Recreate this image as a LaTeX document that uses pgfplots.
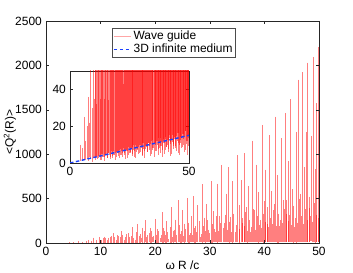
\documentclass[border=0pt]{standalone}
\usepackage{fontspec}
\setmainfont{Liberation Sans}
\usepackage{pgfplots}
\usepackage{pgfplotstable}
\pgfplotsset{compat=1.18}
\definecolor{mblue}{rgb}{0.1,0.25,1}

\pgfplotstableread{
x h b
4.2 10 1.1
5.1 8 0.9
6.0 25 2.0
6.6 12 1.4
7.3 20 2.2
7.8 36 1.2
8.3 22 3.0
8.7 60 2.1
9.2 30 0.8
9.7 70 2.9
10.2 35 2.8
10.7 73 1.9
11.2 32 3.7
11.8 71 2.5
12.3 110 3.7
12.8 35 1.9
13.3 75 4.8
13.8 130 3.3
14.3 35 1.3
14.8 102 4.4
15.3 70 4.1
15.8 180 2.8
16.3 34 5.4
16.8 216 3.5
17.3 102 5.2
17.7 173 2.7
18.2 254 6.6
18.6 88 4.5
19.1 170 1.7
19.5 65 5.9
20.0 272 5.4
20.4 159 3.7
20.9 56 6.9
21.3 347 4.5
21.7 140 6.5
22.1 249 3.3
22.5 43 8.1
22.9 401 5.5
23.3 138 2.1
23.7 262 7.1
24.2 483 6.5
24.6 103 4.4
25.0 372 8.3
25.4 219 5.3
25.8 509 7.7
26.2 87 3.9
26.6 301 9.6
27.0 527 6.5
27.4 191 2.5
27.8 427 8.3
28.2 68 7.6
28.6 660 5.1
29.0 286 9.6
29.4 441 6.2
29.8 151 8.9
30.2 698 4.5
30.6 358 11.0
31.0 123 7.4
31.4 670 2.8
31.8 301 9.5
32.2 881 8.7
32.6 226 5.9
33.0 556 10.9
33.4 853 7.0
33.8 291 10.1
34.2 696 5.1
34.6 122 12.5
35.0 989 8.4
35.35 425 3.2
35.7 704 10.7
36.05 221 9.7
36.4 1013 6.6
36.75 402 12.1
37.1 644 7.8
37.45 119 11.2
37.8 1154 5.7
38.15 371 13.7
38.5 882 9.2
38.85 577 3.5
39.2 261 11.8
39.55 1330 10.7
39.9 474 7.2
40.25 826 13.3
40.6 210 8.5
40.95 1211 12.3
41.3 580 6.2
41.65 369 15.0
42.0 1424 10.1
42.35 762 3.8
42.7 186 12.8
43.05 1181 11.6
43.4 480 7.8
43.75 1464 14.4
44.1 331 9.3
44.45 924 13.3
44.8 1621 6.7
45.15 607 16.3
45.5 176 10.9
45.85 1251 4.1
46.2 1840 13.9
46.55 553 12.6
46.9 1925 8.4
47.25 854 15.6
47.6 1252 10.0
47.95 2030 14.4
48.3 397 7.2
48.65 1207 17.5
49.0 2095 11.8
49.35 828 4.4
49.6 1575 14.9
49.8 2205 13.4
10.45 55 2.5
10.95 60 3.3
11.5 58 2.1
12.05 80 4.0
12.55 62 3.4
13.05 90 1.6
13.55 70 4.9
14.05 95 3.0
14.55 66 3.5
15.05 110 4.5
15.55 75 2.8
16.05 58 5.3
16.55 120 4.5
17.05 80 2.0
17.5 60 6.3
17.95 130 3.8
18.4 70 4.4
18.85 110 5.7
19.3 140 3.5
19.75 78 6.5
20.2 95 5.5
20.65 130 2.5
21.1 85 7.6
21.5 170 4.5
21.9 90 5.3
22.3 120 6.7
22.7 180 4.1
23.1 70 7.6
23.5 150 6.3
23.95 95 2.9
24.4 200 8.8
24.8 130 5.2
25.2 80 6.0
25.6 160 7.7
26.0 230 4.7
26.4 110 8.7
26.8 90 7.2
27.2 170 3.3
27.6 120 9.9
28.0 250 5.9
28.4 100 6.8
28.8 190 8.6
29.2 140 5.3
29.6 260 9.8
30.0 110 8.1
30.4 210 3.6
30.8 160 11.1
31.2 300 6.6
31.6 130 7.6
32.0 220 9.6
32.4 170 5.8
32.8 320 10.8
33.2 150 9.0
33.6 240 4.0
34.0 120 12.2
34.4 330 7.2
34.8 200 8.4
35.5 160 10.7
35.9 280 6.5
36.25 190 12.0
36.6 350 9.9
36.95 140 4.4
37.3 260 13.4
37.65 180 7.9
38.0 380 9.1
38.35 150 11.5
38.7 300 7.0
39.05 200 12.9
39.4 170 10.6
39.75 330 4.8
40.1 240 14.4
40.45 400 8.5
40.8 180 9.8
41.15 280 12.3
41.5 210 7.5
41.85 440 13.8
42.2 190 11.4
42.55 330 5.1
42.9 260 15.4
43.25 220 9.1
43.6 380 10.5
43.95 480 13.2
44.3 250 8.0
44.65 320 14.7
45.0 200 12.2
45.35 420 5.4
45.7 280 16.5
46.05 230 9.7
46.4 500 11.1
46.75 300 14.0
47.1 210 8.5
47.45 380 15.7
47.8 260 12.9
48.15 520 5.8
48.5 300 17.5
48.85 240 10.3
49.2 450 11.8
49.5 320 14.9
49.9 280 9.0
}\spikes

\pgfplotstableread{
x y
0 0
50 15
}\infmedium

\pgfplotsset{
  myaxis/.style={
    scale only axis,
    axis line style={black!85},
    tick style={black!85},
    major tick length=3bp,
    /pgf/number format/assume math mode=true,
    /pgf/number format/1000 sep={},
    tick label style={font=\fontsize{12}{14}\selectfont},
    scaled ticks=false,
  },
  spikestyle/.style={
    draw=none, mark=none,
    legend image code/.code={\draw[draw=red!35, line width=0.8bp] (0cm,0cm) -- (0.6cm,0cm);},
    error bars/.cd, y dir=minus, y explicit, error mark=none,
    error bar style={draw=red, draw opacity=0.5, line width=0.7bp},
  },
  bluestyle/.style={
    draw=mblue, dash pattern=on 3.5bp off 2.5bp, line width=1.4bp,
    legend image code/.code={%
      \pgfsetstrokecolor{mblue}%
      \pgfsetlinewidth{1.4bp}%
      \pgfsetdash{{3.5bp}{2.5bp}}{0pt}%
      \pgfpathmoveto{\pgfpointorigin}%
      \pgfpathlineto{\pgfpoint{0.6cm}{0pt}}%
      \pgfusepath{stroke}},
  },
}

\begin{document}
\fontsize{12}{14}\selectfont
\begin{tikzpicture}
\useasboundingbox (-46bp,-30bp) rectangle (307bp,243bp);
\begin{axis}[
  myaxis,
  axis on top,
  width=273bp, height=222bp,
  xmin=0, xmax=50, ymin=0, ymax=2500,
  xtick={0,10,20,30,40,50},
  ytick={0,500,1000,1500,2000,2500},
  xlabel={ω R /c},
  ylabel={<Q\textsuperscript{2}(R)>},
  xlabel style={at={(axis description cs:0.5,-0.099)}, anchor=center},
  ylabel style={at={(axis description cs:-0.132,0.5)}, anchor=center},
  legend style={at={(axis description cs:0.2418,0.9685)}, anchor=north west,
    draw=black!70, fill=white, font=\fontsize{12}{14}\selectfont,
    inner sep=1bp, row sep=-1.5bp, legend cell align=left},
]
\addplot[spikestyle] table[x=x, y=h, y error minus expr=\thisrow{h}-\thisrow{b}] {\spikes};
\addlegendentry{Wave guide}
\addlegendimage{bluestyle}
\addlegendentry{3D infinite medium}
\end{axis}
\begin{axis}[
  myaxis,
  at={(24bp,80bp)}, anchor=south west,
  width=119bp, height=92bp,
  xmin=0, xmax=50, ymin=0, ymax=50,
  xtick={0,50},
  ytick={0,20,40},
  axis background/.style={fill=white},
]
\addplot[spikestyle] table[x=x, y=h, y error minus expr=\thisrow{h}-\thisrow{b}] {\spikes};
\addplot[bluestyle] table[x=x, y=y] {\infmedium};
\end{axis}
\end{tikzpicture}
\end{document}
